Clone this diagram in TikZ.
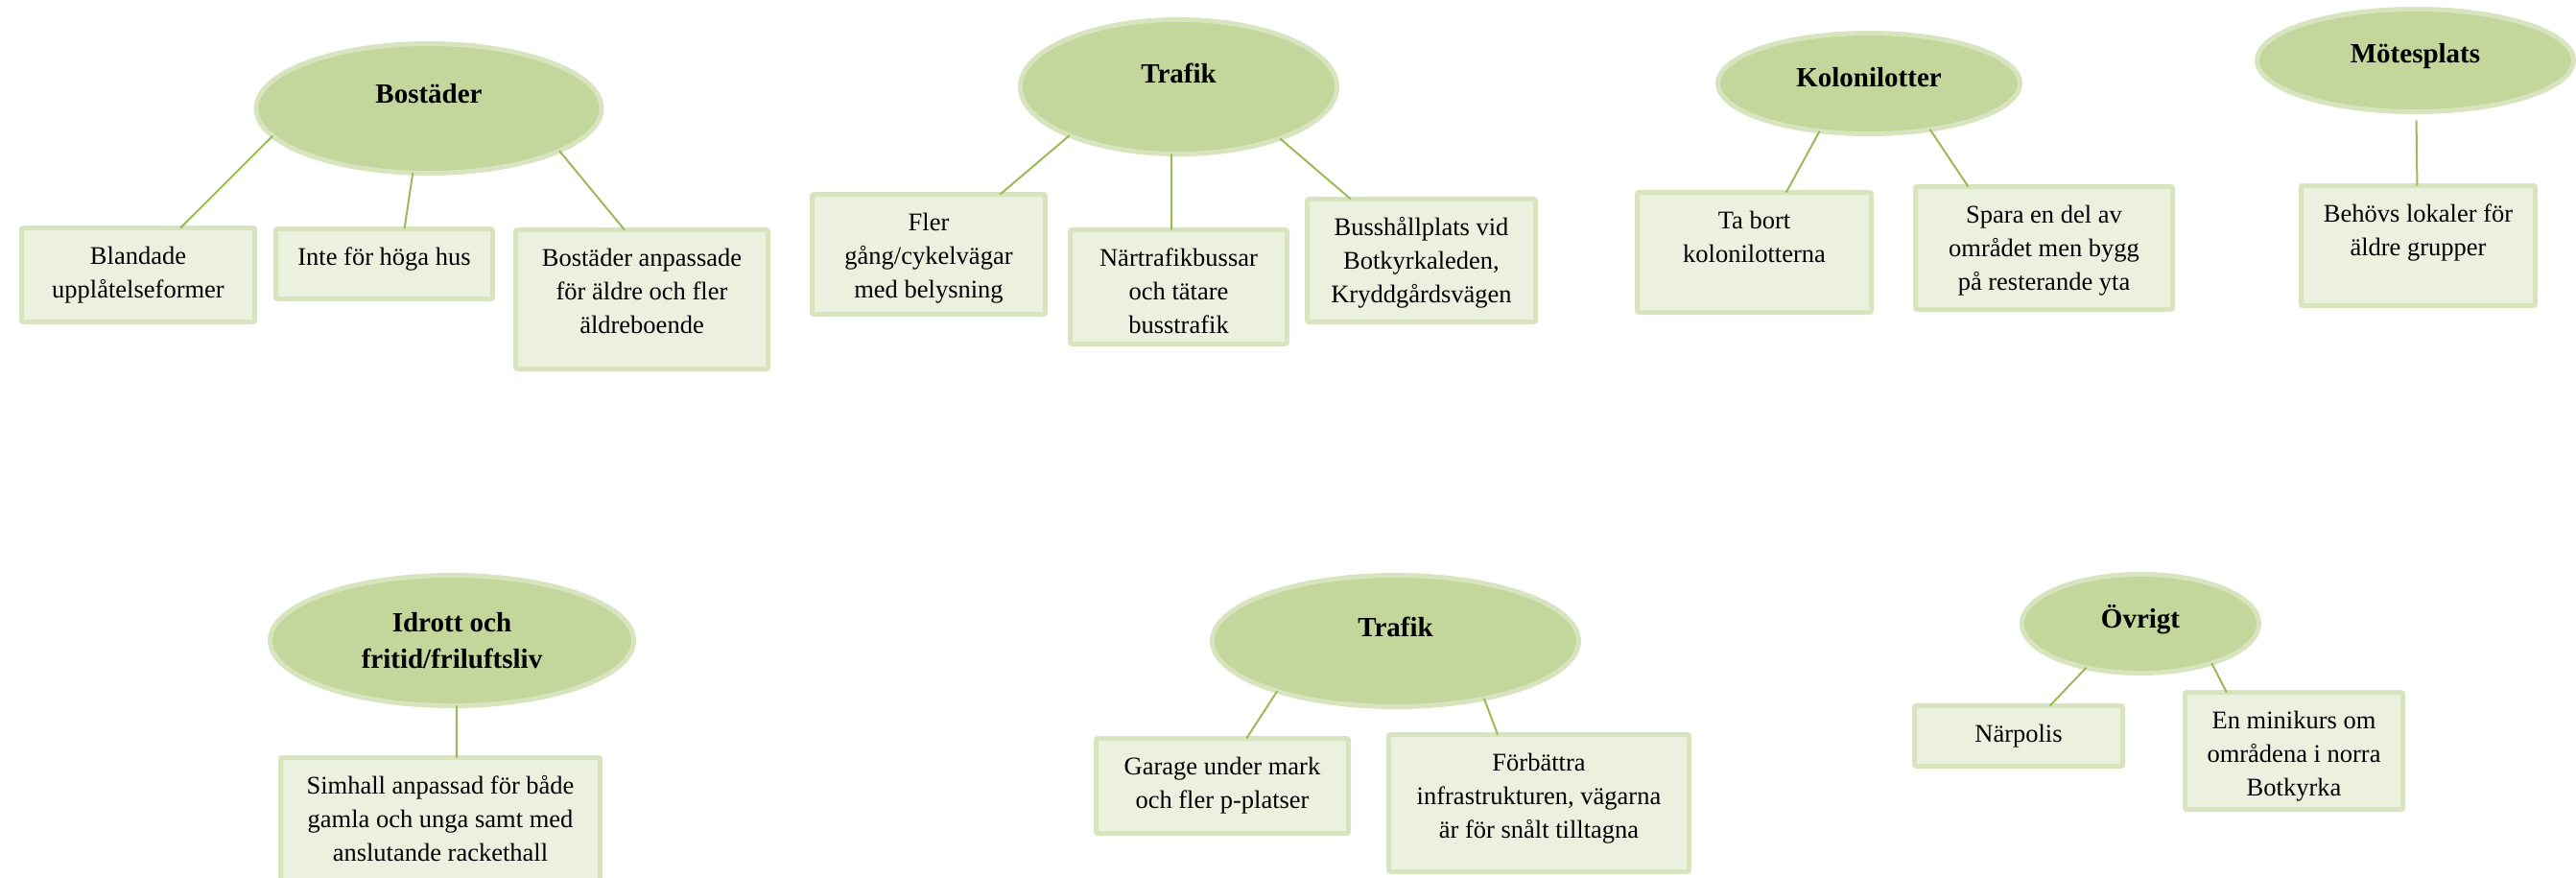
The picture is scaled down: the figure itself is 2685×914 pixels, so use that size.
\documentclass[tikz,border=0pt]{standalone}
\usepackage{fontspec}
\setmainfont{Liberation Serif}
\usetikzlibrary{shapes.geometric}
\usepackage{xcolor}
\definecolor{oliveleaf}{rgb}{0.765, 0.839, 0.608}
\definecolor{palesage}{rgb}{0.843, 0.894, 0.741}
\definecolor{mistgreen}{rgb}{0.922, 0.945, 0.871}
\definecolor{grassline}{rgb}{0.608, 0.733, 0.349}

\begin{document}
\begin{tikzpicture}[x=1pt,y=-1pt]
        \tikzstyle{topic}=[ellipse,draw=palesage,fill=oliveleaf,line width=5pt,inner sep=0pt,outer sep=0pt]
        \tikzstyle{item}=[rectangle,draw=palesage,fill=mistgreen,line width=5pt,rounded corners=2pt,inner sep=0pt,outer sep=0pt]
        \tikzstyle{topictext}=[font=\fontsize{29}{38}\selectfont\bfseries,align=center,inner sep=0pt]
        \tikzstyle{itemtext}=[font=\fontsize{26.5}{35}\selectfont,align=center,anchor=north,inner sep=0pt]
        \tikzstyle{link}=[grassline,line width=2pt]
        \useasboundingbox (0,0) rectangle (2685,914);
        \clip (0,0) rectangle (2685,914);
        % Bostäder
        \node[topic,minimum width=360pt,minimum height=135pt] (bost) at (447,113) {};
        \node[topictext,anchor=base] (bostT) at (447,107) {Bostäder};
        \node[item,minimum width=243pt,minimum height=98pt] (bland) at (144,286.5) {};
        \node[itemtext] (blandT) at ([yshift=-19pt]bland.north) {Blandade\\upplåtelseformer};
        \node[item,minimum width=226pt,minimum height=73pt] (hoga) at (400.5,275) {};
        \node[itemtext] (hogaT) at ([yshift=-19pt]hoga.north) {Inte för höga hus};
        \node[item,minimum width=263pt,minimum height=145pt] (anpass) at (669,312) {};
        \node[itemtext] (anpassT) at ([yshift=-19pt]anpass.north) {Bostäder anpassade\\för äldre och fler\\äldreboende};
        % Trafik (upper)
        \node[topic,minimum width=330pt,minimum height=140pt] (traf) at (1228.5,90.5) {};
        \node[topictext,anchor=base] (trafT) at (1228.5,86) {Trafik};
        \node[item,minimum width=243pt,minimum height=125pt] (fler) at (968,265) {};
        \node[itemtext] (flerT) at ([yshift=-19pt]fler.north) {Fler\\gång/cykelvägar\\med belysning};
        \node[item,minimum width=226pt,minimum height=119pt] (nart) at (1228.5,299) {};
        \node[itemtext] (nartT) at ([yshift=-19pt]nart.north) {Närtrafikbussar\\och tätare\\busstrafik};
        \node[item,minimum width=238pt,minimum height=128pt] (buss) at (1481.5,271.5) {};
        \node[itemtext] (bussT) at ([yshift=-19pt]buss.north) {Busshållplats vid\\Botkyrkaleden,\\Kryddgårdsvägen};
        % Kolonilotter
        \node[topic,minimum width=315pt,minimum height=105pt] (kolo) at (1948,87) {};
        \node[topictext,anchor=base] (koloT) at (1948,90) {Kolonilotter};
        \node[item,minimum width=244pt,minimum height=125pt] (tabort) at (1828.5,263) {};
        \node[itemtext] (tabortT) at ([yshift=-19pt]tabort.north) {Ta bort\\kolonilotterna};
        \node[item,minimum width=268pt,minimum height=128pt] (spara) at (2130.5,258.5) {};
        \node[itemtext] (sparaT) at ([yshift=-19pt]spara.north) {Spara en del av\\området men bygg\\på resterande yta};
        % Mötesplats
        \node[topic,minimum width=330pt,minimum height=107pt] (mote) at (2517.5,63) {};
        \node[topictext,anchor=base] (moteT) at (2517.5,65) {Mötesplats};
        \node[item,minimum width=244pt,minimum height=125pt] (behovs) at (2520.5,256) {};
        \node[itemtext] (behovsT) at ([yshift=-19pt]behovs.north) {Behövs lokaler för\\äldre grupper};
        % Idrott och fritid
        \node[topic,minimum width=379pt,minimum height=136pt] (idro) at (471,667.5) {};
        \node[topictext] (idroT) at (471,668) {Idrott och\\fritid/friluftsliv};
        \node[item,minimum width=333pt,minimum height=160pt] (simh) at (459,869.5) {};
        \node[itemtext] (simhT) at ([yshift=-19pt]simh.north) {Simhall anpassad för både\\gamla och unga samt med\\anslutande rackethall};
        % Trafik (lower)
        \node[topic,minimum width=382pt,minimum height=137pt] (traf2) at (1454.5,668) {};
        \node[topictext,anchor=base] (traf2T) at (1454.5,663) {Trafik};
        \node[item,minimum width=263pt,minimum height=99pt] (garage) at (1274,819) {};
        \node[itemtext] (garageT) at ([yshift=-19pt]garage.north) {Garage under mark\\och fler p-platser};
        \node[item,minimum width=313pt,minimum height=143pt] (forb) at (1604,837) {};
        \node[itemtext] (forbT) at ([yshift=-19pt]forb.north) {Förbättra\\infrastrukturen, vägarna\\är för snålt tilltagna};
        % Övrigt
        \node[topic,minimum width=247pt,minimum height=103pt] (ovri) at (2231,650) {};
        \node[topictext,anchor=base] (ovriT) at (2231,654) {Övrigt};
        \node[item,minimum width=217pt,minimum height=63pt] (narp) at (2104,767) {};
        \node[itemtext] (narpT) at ([yshift=-19pt]narp.north) {Närpolis};
        \node[item,minimum width=227pt,minimum height=122pt] (mini) at (2391,782.5) {};
        \node[itemtext] (miniT) at ([yshift=-19pt]mini.north) {En minikurs om\\områdena i norra\\Botkyrka};
        % Connectors
        \draw[link] (bost.190) -- (bland.48);
        \draw[link] (bost.256) -- (hoga.60);
        \draw[link] (bost.342) -- (anpass.104);
        \draw[link] (traf.204) -- (fler.40);
        \draw[link] (traf.264) -- (nart.97);
        \draw[link] (traf.333) -- (buss.139);
        \draw[link] (kolo.224) -- (tabort.62);
        \draw[link] (kolo.323) -- (spara.141);
        \draw[link,shorten <=9pt] (mote.271) -- (behovs.91);
        \draw[link] (idro.274) -- (simh.78);
        \draw[link] (traf2.203) -- (garage.63);
        \draw[link] (traf2.327) -- (forb.121);
        \draw[link] (ovri.219) -- (narp.44);
        \draw[link] (ovri.331) -- (mini.139);
\end{tikzpicture}
\end{document}
